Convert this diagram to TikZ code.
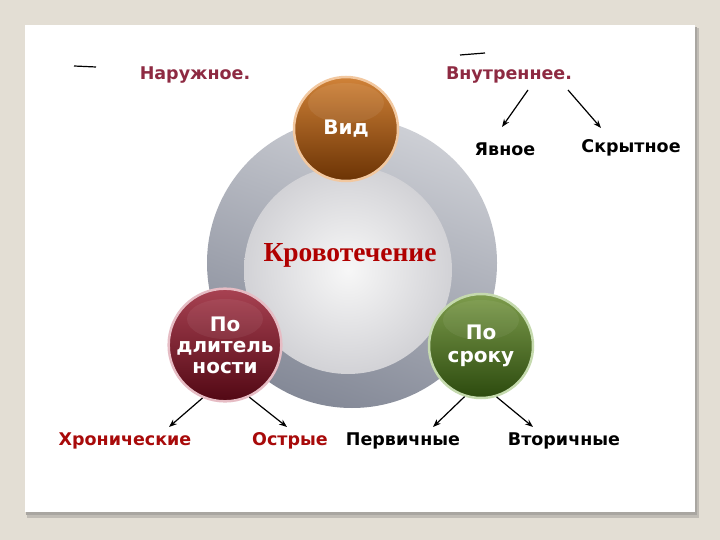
\documentclass[tikz,border=0pt]{standalone}
\usepackage{fontspec}
\setmainfont{DejaVu Sans}
\newfontfamily\serifb{Liberation Serif}
\usetikzlibrary{arrows.meta,calc}
\definecolor{bg}{HTML}{E3DED4}
\definecolor{shad}{HTML}{A9A6A1}
\definecolor{maroonT}{HTML}{8E2A42}
\definecolor{redT}{HTML}{A80A0A}
\definecolor{titleRed}{HTML}{B00000}
\definecolor{ringA}{HTML}{CDCFD5}
\definecolor{ringB}{HTML}{848997}
\definecolor{inA}{HTML}{F7F7F7}
\definecolor{inB}{HTML}{D2D2D6}
\definecolor{vidT}{HTML}{D08238}
\definecolor{vidM}{HTML}{B5641D}
\definecolor{vidB}{HTML}{6B3304}
\definecolor{vidR}{HTML}{F2C8A0}
\definecolor{dlT}{HTML}{A84252}
\definecolor{dlM}{HTML}{7E1B2C}
\definecolor{dlB}{HTML}{520814}
\definecolor{dlR}{HTML}{E6BCC4}
\definecolor{srT}{HTML}{7D9C4C}
\definecolor{srM}{HTML}{4D7620}
\definecolor{srB}{HTML}{2C4A0E}
\definecolor{srR}{HTML}{C5DAAE}
\tikzset{
  lab/.style={inner sep=0pt, font=\fontsize{17.5}{20}\selectfont\bfseries},
  ballnode/.style={circle, minimum size=104pt, inner sep=0pt, line width=2.5pt,
     text=white, align=center, font=\fontsize{20}{23}\selectfont\bfseries},
  arr/.style={-{Stealth[length=8pt,width=6pt]}, line width=1.2pt, black},
}
\begin{document}
\begin{tikzpicture}[x=1pt,y=-1pt]
\useasboundingbox (0,0) rectangle (720,540);
\fill[bg] (0,0) rectangle (720,540);
% card with shadow
\fill[shad!60!bg] (27,28) rectangle (699,518);
\fill[shad] (26,27) rectangle (697,515);
\fill[white] (25,25) rectangle (695,512);
% stray dashes
\draw[line width=1.2pt] (74,66) -- (96,67);
\draw[line width=1.2pt] (460,55) -- (485,53);
% ring
\node[circle, minimum size=290pt, inner sep=0pt, top color=ringA, bottom color=ringB, shading angle=-20] (ring) at (352,263) {};
\node[circle, minimum size=208pt, inner sep=0pt, inner color=inA, outer color=inB] (core) at (348,270) {};
\node[inner sep=0pt, text=titleRed, font=\serifb\fontsize{27.5}{30}\selectfont\bfseries] (title) at (350,255) {Кровотечение};
% balls
\node[ballnode, draw=vidR, top color=vidT, middle color=vidM, bottom color=vidB] (vid) at (346,129) {Вид};
\fill[white, opacity=0.07] ($(vid)+(0,-26)$) ellipse (38 and 20);
\node[ballnode, draw=dlR, top color=dlT, middle color=dlM, bottom color=dlB] (dl) at (225,345) {По\\[-2pt]длитель\\[-2pt]ности};
\fill[white, opacity=0.06] ($(dl)+(0,-26)$) ellipse (38 and 20);
\node[ballnode, draw=srR, top color=srT, middle color=srM, bottom color=srB] (srok) at (481,346) {По\\сроку};
\fill[white, opacity=0.06] ($(srok)+(0,-26)$) ellipse (38 and 20);
% labels
\node[lab, text=maroonT] (nar) at (195,75) {Наружное.};
\node[lab, text=maroonT] (vnut) at (509,75) {Внутреннее.};
\node[lab] (yav) at (505,149) {Явное};
\node[lab] (skr) at (631,148) {Скрытное};
\node[lab, text=redT] (hron) at (125,441) {Хронические};
\node[lab, text=redT] (ostr) at (290,441) {Острые};
\node[lab] (perv) at (403,441) {Первичные};
\node[lab] (vtor) at (564,441) {Вторичные};
% arrow ends
\coordinate (v1) at (528,90);
\coordinate (v2) at (568,90);
\coordinate (e1) at (502,127);
\coordinate (e2) at (601,128);
\coordinate (h1) at (169,427);
\coordinate (o1) at (287,427);
\coordinate (p1) at (433,427);
\coordinate (w1) at (533,427);
\draw[arr] (v1) -- (e1);
\draw[arr] (v2) -- (e2);
\draw[arr] (dl.247) -- (h1);
\draw[arr] (dl.295) -- (o1);
\draw[arr] (srok.252) -- (p1);
\draw[arr] (srok.287) -- (w1);
\end{tikzpicture}
\end{document}
